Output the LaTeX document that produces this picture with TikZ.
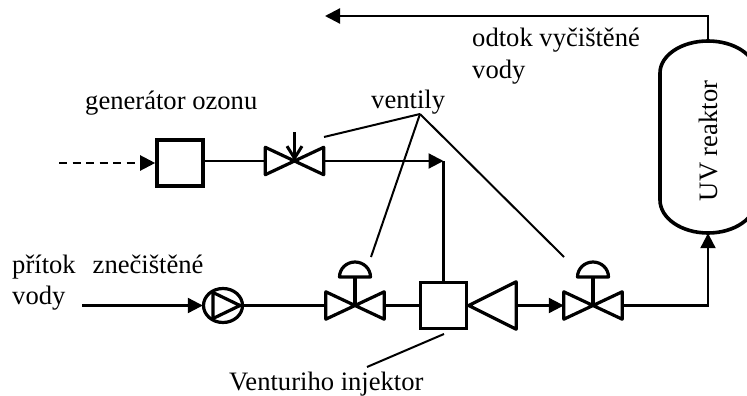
\documentclass[tikz,border=0pt]{standalone}
\usepackage{fontspec}
\setmainfont{Liberation Serif}
\usetikzlibrary{arrows.meta}
\tikzset{
  pipe/.style={line width=2.2pt},
  heavy/.style={line width=3.6pt,line join=miter},
  valveline/.style={line width=3.2pt,line join=round},
  flow/.style={pipe,-{Triangle[length=15pt,width=15pt]}},
  callout/.style={line width=2pt},
  lbl/.style={inner sep=0pt,font=\fontsize{26.6pt}{30pt}\selectfont,anchor=base west},
  boxnode/.style={draw,heavy,minimum width=46pt,minimum height=46pt,inner sep=0pt},
  valvenode/.style={minimum width=58pt,minimum height=27pt,inner sep=0pt},
  pumpnode/.style={minimum width=40pt,minimum height=35pt,inner sep=0pt},
}
\newcommand{\valvebody}[1]{%
  \draw[valveline] (#1.center) -- (#1.north west) -- (#1.south west) -- (#1.center)
    -- (#1.north east) -- (#1.south east) -- cycle;}
\newcommand{\valvedome}[1]{%
  \draw[valveline] ([xshift=-15.5pt,yshift=28.5pt]#1.center) arc[start angle=180,end angle=0,x radius=15.5pt,y radius=15pt] -- cycle;
  \draw[valveline] (#1.center) -- ([yshift=28.5pt]#1.center);}
\begin{document}
\begin{tikzpicture}[x=1pt,y=-1pt]
\useasboundingbox (0,0) rectangle (747,396);
\clip (0,0) rectangle (747,396);

% equipment
\node[boxnode] (gen) at (180,163) {};
\node[valvenode] (v1) at (294.5,161) {};
\node[pumpnode] (pump) at (223,305.5) {};
\node[valvenode] (v2) at (355,305.5) {};
\node[boxnode] (inj) at (443.5,305.5) {};
\node[valvenode] (v3) at (593,305.5) {};
\node[minimum width=47pt,minimum height=47pt,inner sep=0pt] (red) at (492.5,305.5) {};
\node[minimum width=96pt,minimum height=192pt,inner sep=0pt] (uv) at (708,137) {};
\coordinate (dashstart) at (59,163);
\coordinate (knot) at (443.5,161);
\coordinate (flowin) at (82,305.5);
\coordinate (actop) at (294.5,132);
\coordinate (outcorner) at (708,16);
\coordinate (outend) at (325,16);
\coordinate (hub) at (420,114);
\coordinate (c1) at (324,137);
\coordinate (c2) at (371,257);
\coordinate (c3) at (564,257);
\coordinate (c4) at (444,334);
\coordinate (c5) at (367,367);

\valvebody{v1}
\valvebody{v2}
\valvebody{v3}
\valvedome{v2}
\valvedome{v3}

% pump
\draw[valveline] (pump) ellipse[x radius=19.5pt,y radius=17pt];
\draw[valveline] ([xshift=-10pt,yshift=-13pt]pump.center) -- ([xshift=17pt]pump.center) -- ([xshift=-10pt,yshift=13pt]pump.center) -- cycle;

% reducer
\draw[valveline] (red.west) -- (red.north east) -- (red.south east) -- cycle;

% reactor
\draw[heavy] (660,73) arc[start angle=180,end angle=0,x radius=48pt,y radius=32pt]
  -- (756,200) arc[start angle=0,end angle=-180,x radius=48pt,y radius=33pt] -- cycle;

% pipes
\draw[pipe,dash pattern=on 8pt off 5.5pt,-{Triangle[length=15pt,width=15pt]}] (dashstart) -- (gen.west |- dashstart);
\draw[pipe] (gen.east |- v1) -- (v1.west);
\draw[pipe,line width=2.8pt,-{Straight Barb[length=12pt,width=15pt,line width=3pt]}] (actop) -- (v1.center);
\draw[flow] (v1.east) -- (knot);
\draw[pipe] (knot) -- (inj.north);
\draw[flow] (flowin) -- (pump.west);
\draw[pipe] (pump.east) -- (v2.west);
\draw[pipe] (v2.east) -- (inj.west);
\draw[flow] (red.east) -- (v3.west);
\draw[flow] (v3.east) -| (uv.south);
\draw[flow] (uv.north) -- (outcorner) -- (outend);

% callouts
\draw[callout] (hub) -- (c1);
\draw[callout] (hub) -- (c2);
\draw[callout] (hub) -- (c3);
\draw[callout] (c4) -- (c5);

% labels
\node[lbl] (t1) at (85,110) {generátor ozonu};
\node[lbl] (t2) at (371,108) {ventily};
\node[lbl] (t3) at (472,47) {odtok vyčištěné};
\node[lbl] (t4) at (472,78) {vody};
\node[lbl] (t5) at (12,273) {přítok\hspace{17pt}znečištěné};
\node[lbl] (t6) at (12,304) {vody};
\node[lbl] (t7) at (229,390) {Venturiho injektor};
\node[lbl,anchor=base,rotate=90] (t8) at (717,141) {UV reaktor};
\end{tikzpicture}
\end{document}
